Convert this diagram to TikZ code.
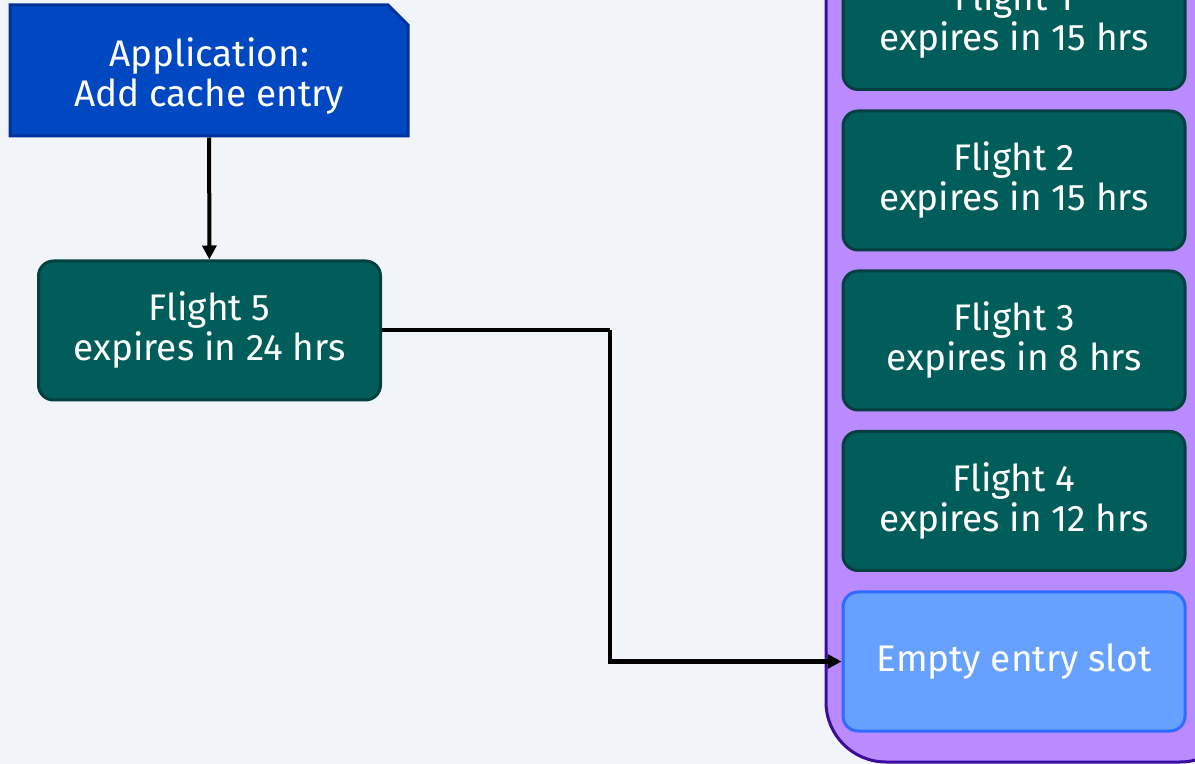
\documentclass[tikz,border=0pt]{standalone}
\usepackage{fontspec}
\setmainfont{Fira Sans}
\usepackage{xcolor}
\definecolor{PageBg}{HTML}{F1F4F8}
\definecolor{AppBlue}{HTML}{0047C2}
\definecolor{AppEdge}{HTML}{003399}
\definecolor{FlightTeal}{HTML}{005D5A}
\definecolor{FlightEdge}{HTML}{03403F}
\definecolor{CachePurple}{HTML}{B98BFF}
\definecolor{CacheEdge}{HTML}{3B0CA0}
\definecolor{SlotBlue}{HTML}{66A1FF}
\definecolor{SlotEdge}{HTML}{2F6BFF}
\usetikzlibrary{arrows.meta, shapes.misc}
\tikzset{
  flight/.style={
    rectangle, rounded corners=7.5pt,
    minimum width=171pt, minimum height=69.5pt,
    fill=FlightTeal, draw=FlightEdge, line width=1.5pt,
    align=center, text=white, font=\fontsize{18.5}{20}\selectfont
  },
  arr/.style={-{Triangle[length=7pt, width=7pt]}, line width=2pt, color=black},
}

\begin{document}
\begin{tikzpicture}[x=0.5pt, y=-0.5pt]

% picture frame in pixel units, y downwards
\useasboundingbox (0,0) rectangle (1195,764);
\fill[PageBg] (0,0) rectangle (1195,764);
\clip (0,0) rectangle (1195,764);

\node[chamfered rectangle, chamfered rectangle corners=north east,
  chamfered rectangle xsep=5pt, chamfered rectangle ysep=5pt,
  minimum width=199pt, minimum height=65.5pt,
  fill=AppBlue, draw=AppEdge, line width=1.5pt,
  align=center, text=white, font=\fontsize{18.5}{20}\selectfont]
  at (209,70.5) (app) {\rule{0pt}{20pt}Application:\\Add cache entry};

\node[flight] at (209.5,330.5) (f5) {Flight 5\\expires in 24 hrs};

% cache with its entry slots
\node[rectangle, rounded corners=30pt, minimum width=207pt, minimum height=431pt,
  fill=CachePurple, draw=CacheEdge, line width=1.5pt] at (1033,331) (cache) {};

\node[flight] at (1014,20) (f1) {Flight 1\\expires in 15 hrs};
\node[flight] at (1014,180.5) (f2) {Flight 2\\expires in 15 hrs};
\node[flight] at (1014,340.5) (f3) {Flight 3\\expires in 8 hrs};
\node[flight] at (1014,501) (f4) {Flight 4\\expires in 12 hrs};
\node[flight, fill=SlotBlue, draw=SlotEdge] at (1014,661.5) (slot) {Empty entry slot};

\coordinate (turn) at (610,330.5);

\draw[arr] (app) -- (f5);
\draw[arr, -] (f5) -- (turn);
\draw[arr] (turn) |- (slot);

\end{tikzpicture}
\end{document}
